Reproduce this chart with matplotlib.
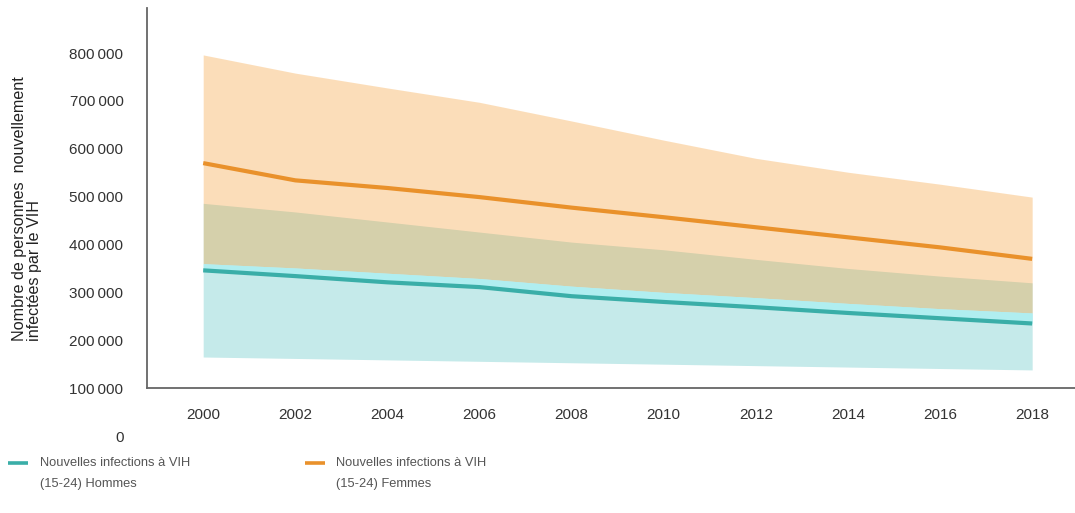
import matplotlib
matplotlib.use("Agg")
import matplotlib.pyplot as plt
from matplotlib.lines import Line2D
from matplotlib.ticker import FixedLocator, FuncFormatter

# ---- data ----
years = [2000, 2002, 2004, 2006, 2008, 2010, 2012, 2014, 2016, 2018]
hommes = [346000, 334000, 321000, 311000, 292000, 280000, 269000, 257000, 246000, 235000]
hommes_low = [165000, 162000, 159000, 156000, 153000, 150000, 147000, 144000, 141000, 138000]
hommes_high = [486000, 468000, 447000, 426000, 405000, 389000, 369000, 350000, 334000, 320000]
femmes = [570000, 534000, 518000, 499000, 477000, 457000, 436000, 415000, 394000, 370000]
femmes_low = [360000, 351000, 340000, 329000, 313000, 300000, 289000, 277000, 266000, 257000]
femmes_high = [796000, 758000, 727000, 697000, 658000, 618000, 580000, 551000, 526000, 499000]
y_ticks = [0, 100000, 200000, 300000, 400000, 500000, 600000, 700000, 800000]
x_ticks = years
labels = ["Nouvelles infections à VIH\n(15-24) Hommes",
          "Nouvelles infections à VIH\n(15-24) Femmes"]
ylabel = "Nombre de personnes  nouvellement\ninfectées par le VIH"

plt.rcParams["font.family"] = ["Liberation Sans", "DejaVu Sans"]

fig = plt.figure(figsize=(10.75, 5.13), dpi=100)
ax = fig.add_axes([147 / 1075, (513 - 436) / 513, (1075 - 147) / 1075, (436 - 8) / 513])

teal_band = "#c5eaea"
teal_bright = "#b0eef0"
teal_line = "#3aaea8"
orange_fill = "#f69e34"
orange_line = "#e9912b"

ax.fill_between(years, hommes_low, hommes_high, color=teal_band, lw=0, zorder=1)
ax.fill_between(years, femmes_low, femmes_high, color=orange_fill, alpha=0.34, lw=0, zorder=2)
ax.fill_between(years, hommes, femmes_low, where=[fl > h for fl, h in zip(femmes_low, hommes)],
                interpolate=True, color=teal_bright, lw=0, zorder=2.5)
l1, = ax.plot(years, hommes, color=teal_line, lw=3.0, zorder=3, solid_capstyle="butt")
l2, = ax.plot(years, femmes, color=orange_line, lw=3.0, zorder=3, solid_capstyle="butt")

ax.set_xlim(1998.78, 2018.93)
ax.set_ylim(0, 894000)

ax.spines["top"].set_visible(False)
ax.spines["right"].set_visible(False)
ax.spines["bottom"].set_position(("data", 100000))
ax.spines["left"].set_bounds(100000, 894000)
for s in ("bottom", "left"):
    ax.spines[s].set_color("#666666")
    ax.spines[s].set_linewidth(1.3)

ax.xaxis.set_major_locator(FixedLocator(x_ticks))
ax.yaxis.set_major_locator(FixedLocator(y_ticks))
ax.yaxis.set_major_formatter(FuncFormatter(
    lambda v, p: "0" if v == 0 else f"{int(v) // 1000}\u2009{int(v) % 1000:03d}"))
ax.tick_params(axis="x", length=0, pad=14, labelsize=11, labelcolor="#333333")
ax.tick_params(axis="y", length=0, pad=17, labelsize=11, labelcolor="#333333")

fig.text(27 / 1075, (513 - 341) / 513, ylabel, rotation=90, ha="center", va="bottom",
         multialignment="left", fontsize=11.6, color="#222222", linespacing=1.0)

# legend (handle aligned with first text line, as in the original)
W, H = 1075, 513
for line, lab, hx0, hx1, tx in [(l1, labels[0], 8, 28, 40), (l2, labels[1], 305, 325, 336)]:
    fig.add_artist(Line2D([hx0 / W, hx1 / W], [(H - 463) / H] * 2, transform=fig.transFigure,
                          color=line.get_color(), lw=2.6, solid_capstyle="butt"))
    fig.text(tx / W, (H - 457) / H, lab, ha="left", va="top", fontsize=9.3,
             color="#555555", linespacing=1.95)

fig.savefig("out.png", dpi=100)
